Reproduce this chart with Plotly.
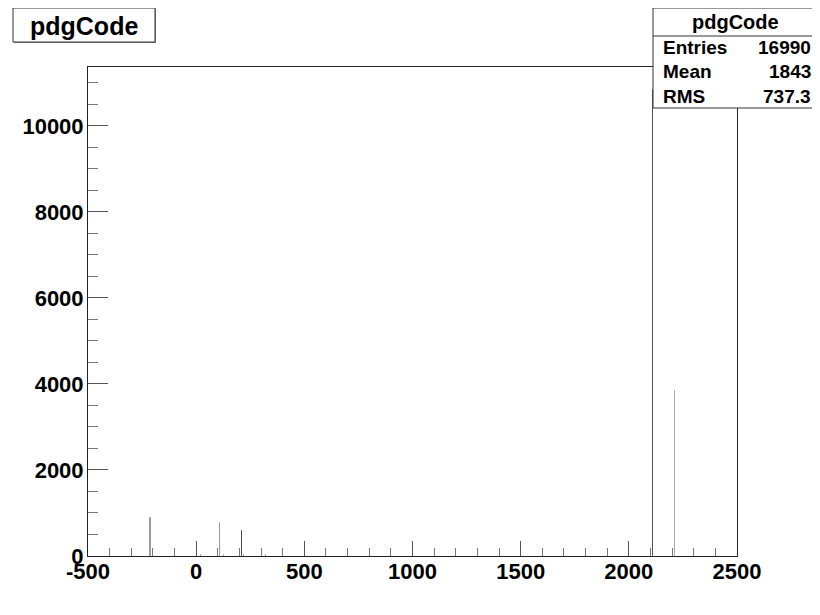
import plotly.graph_objects as go

# PDG codes and entries per bin
pdg_codes = [-321, -211, 22, 111, 130, 211, 221, 321, 2112, 2212]
counts = [10, 890, 30, 775, 25, 590, 15, 20, 10830, 3830]
bar_colors = ["#9a9a9a", "#9a9a9a", "#8a8a8a", "#9a9a9a", "#8a8a8a",
              "#4a4a4a", "#8a8a8a", "#8a8a8a", "#555555", "#a8a8a8"]

x_ticks = [-500, 0, 500, 1000, 1500, 2000, 2500]
y_ticks = [0, 2000, 4000, 6000, 8000, 10000]

stats_labels = ["Entries", "Mean", "RMS"]
stats_values = ["16990", "1843", "737.3"]
title_text = "pdgCode"

OFF = 8  # page body margin
W, H = 820 - OFF, 615 - 2 * OFF
L, R, T, B = 88, 737, 67, 556  # screen pixels of the plot frame
PW, PH = R - L, B - T


def px(x):
    return (x - L) / PW


def py(y):
    return (B - y) / PH


FONT = "Liberation Sans, Arial, Helvetica, sans-serif"

fig = go.Figure()
fig.add_trace(go.Bar(
    x=pdg_codes, y=counts, width=1,
    marker=dict(color=bar_colors, line=dict(color=bar_colors, width=1)),
    showlegend=False, hoverinfo="x+y",
))

fig.update_layout(
    width=W, height=H,
    margin=dict(l=L - OFF, r=W - (R - OFF), t=T - OFF, b=H - (B - OFF), pad=0),
    paper_bgcolor="white", plot_bgcolor="white",
    bargap=0,
    xaxis=dict(
        range=[-500, 2500], tickvals=x_ticks, ticktext=[str(v) for v in x_ticks],
        ticks="inside", ticklen=15, tickwidth=1, tickcolor="#555",
        minor=dict(dtick=100, tick0=-500, ticks="inside", ticklen=8, tickwidth=1, tickcolor="#777", showgrid=False),
        showgrid=False, zeroline=False, showline=True, linecolor="#222", linewidth=1, mirror=True,
        tickfont=dict(family=FONT, size=22, color="black", weight="bold"),
        ticklabelstandoff=-4,
    ),
    yaxis=dict(
        range=[0, 11370], tickvals=y_ticks, ticktext=[str(v) for v in y_ticks],
        ticks="inside", ticklen=20, tickwidth=1, tickcolor="#555",
        minor=dict(dtick=500, tick0=0, ticks="inside", ticklen=10, tickwidth=1, tickcolor="#777", showgrid=False),
        showgrid=False, zeroline=False, showline=True, linecolor="#222", linewidth=1, mirror=True,
        tickfont=dict(family=FONT, size=22, color="black", weight="bold"),
        ticklabelstandoff=-1,
    ),
)

shapes = []
annotations = []

# Title box with shadow
shapes.append(dict(type="rect", xref="paper", yref="paper",
                   x0=px(14), x1=px(156), y0=py(43), y1=py(9),
                   fillcolor="#888", line=dict(width=0), layer="above"))
shapes.append(dict(type="rect", xref="paper", yref="paper",
                   x0=px(13), x1=px(155), y0=py(42), y1=py(8),
                   fillcolor="white", line=dict(color="#333", width=1), layer="above"))
annotations.append(dict(xref="paper", yref="paper", x=px(84), y=py(26),
                        text=title_text, showarrow=False, xanchor="center", yanchor="middle",
                        font=dict(family=FONT, size=25, color="black", weight="bold")))

# Stats box
shapes.append(dict(type="rect", xref="paper", yref="paper",
                   x0=px(653), x1=px(818), y0=py(108), y1=py(8),
                   fillcolor="white", line=dict(color="#333", width=1), layer="above"))
shapes.append(dict(type="line", xref="paper", yref="paper",
                   x0=px(653), x1=px(818), y0=py(36), y1=py(36),
                   line=dict(color="#333", width=1), layer="above"))
annotations.append(dict(xref="paper", yref="paper", x=px(735.5), y=py(22),
                        text=title_text, showarrow=False, xanchor="center", yanchor="middle",
                        font=dict(family=FONT, size=20, color="black", weight="bold")))
rows_y = [48, 72, 97]
for lab, val, yy in zip(stats_labels, stats_values, rows_y):
    annotations.append(dict(xref="paper", yref="paper", x=px(661), y=py(yy),
                            text=lab, showarrow=False, xanchor="left", yanchor="middle",
                            font=dict(family=FONT, size=19, color="black", weight="bold")))
    annotations.append(dict(xref="paper", yref="paper", x=px(813), y=py(yy),
                            text=val, showarrow=False, xanchor="right", yanchor="middle",
                            font=dict(family=FONT, size=19, color="black", weight="bold")))

fig.update_layout(shapes=shapes, annotations=annotations)
fig.write_html("out.html")
